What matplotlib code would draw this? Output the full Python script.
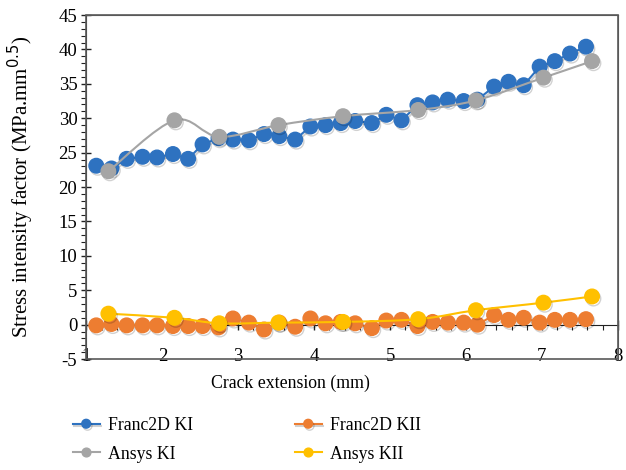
import matplotlib.pyplot as plt
import matplotlib.patheffects as pe
from matplotlib.path import Path
from matplotlib.patches import PathPatch, Rectangle
from matplotlib.ticker import MultipleLocator
import numpy as np

plt.rcParams['font.family'] = ['Liberation Serif', 'DejaVu Serif']
plt.rcParams['axes.unicode_minus'] = False

# Franc2D results
franc_x = [1.13, 1.33, 1.53, 1.74, 1.93, 2.14, 2.34, 2.53, 2.74, 2.93, 3.14,
           3.34, 3.54, 3.75, 3.95, 4.15, 4.35, 4.54, 4.76, 4.95, 5.15, 5.36,
           5.56, 5.76, 5.97, 6.15, 6.37, 6.56, 6.76, 6.97, 7.17, 7.37, 7.58]
franc_ki = [23.1, 22.7, 24.1, 24.4, 24.3, 24.8, 24.1, 26.2, 27.1, 26.9, 26.8,
            27.7, 27.4, 26.9, 28.8, 29.0, 29.3, 29.6, 29.3, 30.5, 29.7, 31.9,
            32.3, 32.7, 32.5, 32.7, 34.6, 35.3, 34.8, 37.5, 38.3, 39.4, 40.4]
franc_kii = [-0.1, 0.1, -0.1, -0.1, -0.1, -0.2, -0.2, -0.2, -0.4, 0.9, 0.3,
             -0.7, 0.3, -0.3, 0.9, 0.2, 0.4, 0.2, -0.5, 0.6, 0.7, -0.2,
             0.4, 0.3, 0.3, 0.0, 1.4, 0.7, 1.0, 0.3, 0.7, 0.7, 0.8]

# Ansys results
ansys_x = [1.29, 2.16, 2.75, 3.53, 4.38, 5.37, 6.13, 7.02, 7.66]
ansys_ki = [22.3, 29.7, 27.3, 29.0, 30.3, 31.2, 32.6, 35.9, 38.3]
ansys_kii = [1.6, 1.0, 0.2, 0.3, 0.4, 0.8, 2.1, 3.2, 4.1]

C_BLUE = '#2E72C0'
C_ORANGE = '#ED7D31'
C_GREY = '#A5A5A5'
C_YELLOW = '#FFC000'

shadow = [pe.SimpleLineShadow(offset=(1, -1.5), shadow_color='k', alpha=0.18), pe.Normal()]


def smooth_path(x, y, t=1/6):
    # Excel-style smoothed line: Catmull-Rom turned into cubic beziers
    x = np.asarray(x, float)
    y = np.asarray(y, float)
    verts = [(x[0], y[0])]
    codes = [Path.MOVETO]
    n = len(x)
    for i in range(n - 1):
        x0, y0 = (x[i - 1], y[i - 1]) if i > 0 else (x[i], y[i])
        x3, y3 = (x[i + 2], y[i + 2]) if i + 2 < n else (x[i + 1], y[i + 1])
        c1 = (x[i] + (x[i + 1] - x0) * t, y[i] + (y[i + 1] - y0) * t)
        c2 = (x[i + 1] - (x3 - x[i]) * t, y[i + 1] - (y3 - y[i]) * t)
        verts += [c1, c2, (x[i + 1], y[i + 1])]
        codes += [Path.CURVE4] * 3
    return Path(verts, codes)


fig, ax = plt.subplots(figsize=(6.26, 4.70), dpi=100)
fig.subplots_adjust(left=0.138, right=0.987, top=0.968, bottom=0.236)

ms = 10.5
ax.plot(franc_x, franc_ki, '-o', color=C_BLUE, lw=1.5, ms=ms, label='Franc2D KI',
        zorder=3, path_effects=shadow)
ax.plot(franc_x, franc_kii, '-o', color=C_ORANGE, lw=1.5, ms=ms, label='Franc2D KII',
        zorder=3, path_effects=shadow)

for xs, ys, col, lab in [(ansys_x, ansys_ki, C_GREY, 'Ansys KI'),
                         (ansys_x, ansys_kii, C_YELLOW, 'Ansys KII')]:
    ax.add_patch(PathPatch(smooth_path(xs, ys), fill=False, edgecolor=col, lw=1.5, zorder=4))
    ax.plot(xs, ys, 'o', color=col, ms=ms, zorder=4, path_effects=shadow)
    ax.plot([], [], '-o', color=col, lw=1.5, ms=ms, label=lab)

ax.set_xlim(1, 8)
ax.set_ylim(-5, 45)
ax.xaxis.set_major_locator(MultipleLocator(1))
ax.xaxis.set_minor_locator(MultipleLocator(0.2))
ax.yaxis.set_major_locator(MultipleLocator(5))
ax.yaxis.set_minor_locator(MultipleLocator(1))

# horizontal axis sits on y=0, labels stay at the bottom
ax.spines['bottom'].set_position(('data', 0))
ax.spines['bottom'].set_color('#222222')
ax.spines['left'].set_color('#222222')
for s in ['top', 'right']:
    ax.spines[s].set_color('#595959')
ax.add_patch(Rectangle((0, 0), 1, 1, transform=ax.transAxes, fill=False,
                       edgecolor='#595959', lw=1.2, zorder=5, clip_on=False))

ax.tick_params(axis='both', which='major', labelsize=13.5, direction='inout',
               length=7, width=1, color='#222222')
ax.tick_params(axis='both', which='minor', direction='out', length=3.5,
               width=0.8, color='#222222')
ax.tick_params(axis='x', which='major', pad=13)
ax.tick_params(axis='y', which='major', pad=3)

ax.set_xlabel('Crack extension (mm)', fontsize=12.8)
ax.xaxis.set_label_coords(0.383, -0.045)
ax.set_ylabel('Stress intensity factor (MPa.mm$^{0.5}$)', fontsize=15)
ax.yaxis.set_label_coords(-0.095, 0.5)

handles, labels = ax.get_legend_handles_labels()
order = [labels.index(l) for l in ['Franc2D KI', 'Ansys KI', 'Franc2D KII', 'Ansys KII']]
fig.legend([handles[i] for i in order], [labels[i] for i in order],
           ncol=2, loc='upper left', bbox_to_anchor=(0.105, 0.128),
           borderaxespad=0, frameon=False, fontsize=12.8, handlelength=1.5,
           markerscale=0.6, columnspacing=5.75, labelspacing=0.65, handletextpad=0.45)

fig.savefig('out.png', dpi=100)
